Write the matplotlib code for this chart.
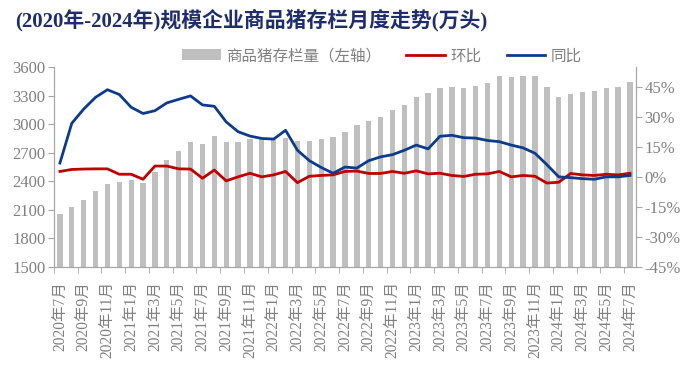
import matplotlib.pyplot as plt
import numpy as np

# monthly data, 2020-07 .. 2024-07
stock = [2060, 2130, 2208, 2297, 2375, 2392, 2413, 2381, 2498, 2626,
         2718, 2817, 2792, 2877, 2810, 2810, 2849, 2849, 2838, 2856,
         2828, 2828, 2842, 2863, 2923, 2994, 3033, 3080, 3153, 3203,
         3291, 3327, 3380, 3394, 3383, 3404, 3433, 3511, 3497, 3511,
         3511, 3387, 3281, 3316, 3341, 3348, 3383, 3394, 3440]

yoy = [7.0, 26.9, 34.0, 39.9, 43.7, 41.3, 34.9, 31.8, 33.2, 37.1,
       38.9, 40.6, 36.1, 35.4, 27.6, 22.7, 20.5, 19.3, 19.0, 23.4,
       13.4, 8.2, 4.8, 1.9, 5.0, 4.5, 8.2, 10.1, 11.2, 13.4,
       16.0, 14.1, 20.4, 20.9, 19.7, 19.5, 18.3, 17.7, 16.0, 14.6,
       11.9, 6.2, 0.1, -0.3, -0.8, -1.1, 0.1, 0.1, 0.8]

mom = [2.8, 3.8, 4.0, 4.1, 4.1, 1.4, 1.4, -1.1, 5.5, 5.5,
       4.1, 4.0, -0.6, 3.5, -1.9, 0.1, 1.9, 0.1, 1.1, 2.8,
       -2.8, 0.4, 0.8, 1.1, 2.8, 3.0, 1.8, 1.8, 2.8, 1.9,
       3.1, 1.6, 1.9, 0.8, 0.3, 1.4, 1.6, 2.8, 0.1, 0.8,
       0.4, -3.0, -2.6, 1.8, 1.1, 0.8, 1.4, 1.1, 1.9]

# every second month is labelled
month_labels = ["2020年7月", "2020年9月", "2020年11月", "2021年1月", "2021年3月",
                "2021年5月", "2021年7月", "2021年9月", "2021年11月", "2022年1月",
                "2022年3月", "2022年5月", "2022年7月", "2022年9月", "2022年11月",
                "2023年1月", "2023年3月", "2023年5月", "2023年7月", "2023年9月",
                "2023年11月", "2024年1月", "2024年3月", "2024年5月", "2024年7月"]

left_ticks = [1500, 1800, 2100, 2400, 2700, 3000, 3300, 3600]
right_ticks = [-45, -30, -15, 0, 15, 30, 45]

serif_cjk = ["Liberation Serif", "Noto Sans CJK SC"]
txt_gray = "#808080"
spine_gray = "#a6a6a6"

fig = plt.figure(figsize=(6.92, 3.75), dpi=100)
ax = fig.add_axes([0.078, 0.288, 0.841, 0.533])
ax2 = ax.twinx()

x = np.arange(len(stock))

ax.bar(x, stock, width=0.45, color="#bfbfbf", label="商品猪存栏量（左轴）", zorder=1)
ax2.plot(x, mom, color="#c00000", lw=2.0, label="环比")
ax2.plot(x, yoy, color="#0d3b8c", lw=2.0, label="同比")

ax.set_xlim(-0.5, len(stock) - 0.5)
ax.set_ylim(1500, 3600)
ax2.set_ylim(-45, 55)

ax.set_yticks(left_ticks)
ax.set_yticklabels([str(v) for v in left_ticks], family="Liberation Serif",
                   fontsize=12, color=txt_gray)
ax2.set_yticks(right_ticks)
ax2.set_yticklabels([f"{v}%" for v in right_ticks], family="Liberation Serif",
                    fontsize=12, color=txt_gray)

ax.set_xticks(x[::2])
ax.set_xticklabels(month_labels, rotation=90, family=serif_cjk,
                   fontsize=11.2, color=txt_gray)
ax.set_xticks(np.arange(-0.5, len(stock), 2), minor=True)
ax.tick_params(axis="x", which="major", length=0, pad=10)
ax.tick_params(axis="x", which="minor", length=4, color=spine_gray)
ax.tick_params(axis="y", length=4, color=spine_gray, pad=2)
ax2.tick_params(axis="y", length=4, color=spine_gray, pad=2)

for a in (ax, ax2):
    a.spines["top"].set_visible(False)
    for s in ("left", "right", "bottom"):
        a.spines[s].set_color(spine_gray)

# legend across the top
h1, l1 = ax.get_legend_handles_labels()
h2, l2 = ax2.get_legend_handles_labels()
fig.legend(h1 + h2, l1 + l2, loc="center", bbox_to_anchor=(0.552, 0.85),
           ncol=3, frameon=False, prop={"family": serif_cjk, "size": 11.2},
           labelcolor=txt_gray, handlelength=2.5, handleheight=0.7,
           columnspacing=1.6, handletextpad=0.35)

fig.text(0.022, 0.945, "(2020年-2024年)规模企业商品猪存栏月度走势(万头)",
         family=serif_cjk, fontsize=15, fontweight="bold", color="#1f2d6e",
         va="center", ha="left")

fig.savefig("out.png", dpi=100)
